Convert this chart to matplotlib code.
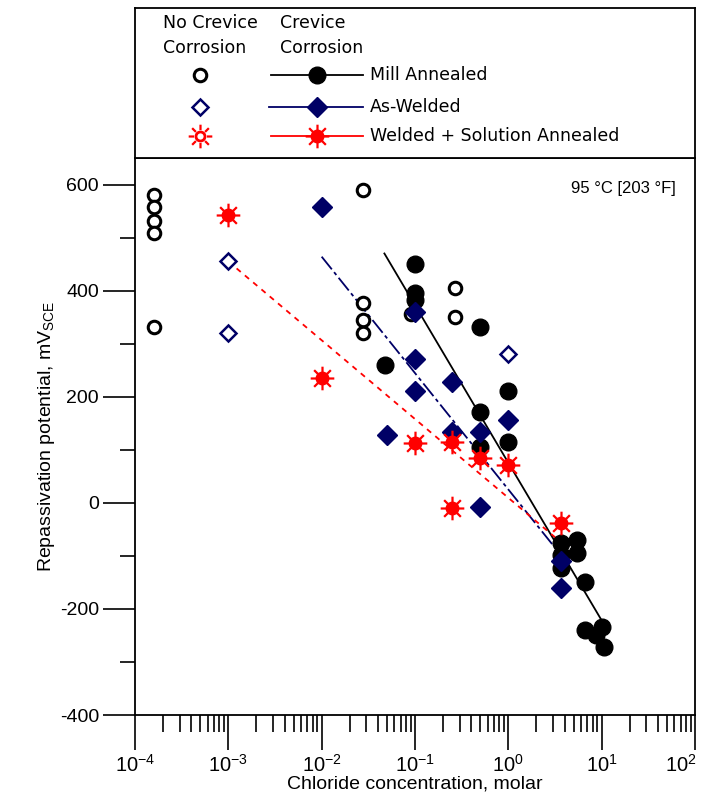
import numpy as np
import matplotlib
matplotlib.use("Agg")
import matplotlib.pyplot as plt
from matplotlib.path import Path
from matplotlib.transforms import ScaledTranslation
from matplotlib.ticker import LogLocator, FixedLocator, NullFormatter

plt.rcParams['font.family'] = ['Liberation Sans', 'DejaVu Sans']
plt.rcParams['axes.unicode_minus'] = False
plt.rcParams['mathtext.fontset'] = 'custom'
plt.rcParams['mathtext.rm'] = 'Liberation Sans'
plt.rcParams['mathtext.it'] = 'Liberation Sans:italic'
plt.rcParams['mathtext.bf'] = 'Liberation Sans:bold'

# Mill Annealed
ma_open_x = [1.6e-4, 1.6e-4, 1.6e-4, 1.6e-4, 1.6e-4, 0.028, 0.028, 0.028, 0.028, 0.09, 0.27, 0.27, 4.6]
ma_open_y = [581, 558, 532, 509, 332, 589, 377, 345, 321, 355, 404, 351, -79]
ma_crev_x = [0.048, 0.1, 0.1, 0.1, 0.5, 0.5, 0.5, 1.0, 1.0, 3.7, 3.7, 3.7, 5.4, 5.4, 6.6, 6.6, 8.8, 10.0, 10.7]
ma_crev_y = [260, 450, 395, 383, 332, 172, 105, 210, 115, -75, -98, -123, -70, -94, -150, -240, -249, -234, -272]
ma_fit_x = [0.047, 10.5]
ma_fit_y = [470, -228]

# As-Welded
aw_open_x = [0.001, 0.001, 1.0]
aw_open_y = [455, 320, 280]
aw_crev_x = [0.01, 0.05, 0.1, 0.1, 0.1, 0.25, 0.25, 0.5, 0.5, 1.0, 3.7, 3.7]
aw_crev_y = [558, 128, 360, 272, 211, 228, 134, 134, -8, 157, -110, -160]
aw_fit_x = [0.01, 4.0]
aw_fit_y = [464, -107]

# Welded + Solution Annealed
wsa_crev_x = [0.001, 0.01, 0.1, 0.25, 0.25, 0.5, 1.0, 3.7]
wsa_crev_y = [543, 236, 113, 115, -10, 85, 72, -38]
wsa_fit_x = [0.001, 3.7]
wsa_fit_y = [455, -75]

x_ticks = [1e-4, 1e-3, 1e-2, 1e-1, 1e0, 1e1, 1e2]
x_ticklabels = ['$10^{-4}$', '$10^{-3}$', '$10^{-2}$', '$10^{-1}$', '$10^{0}$', '$10^{1}$', '$10^{2}$']
y_ticks = [-400, -200, 0, 200, 400, 600]

NAVY = '#000066'
RED = '#ff0000'

# spikes around the circle for the "sunburst" marker
verts, codes = [], []
for a in np.linspace(0, 2 * np.pi, 8, endpoint=False):
    verts += [(0.55 * np.cos(a), 0.55 * np.sin(a)), (np.cos(a), np.sin(a))]
    codes += [Path.MOVETO, Path.LINETO]
spikes = Path(verts, codes)


def sunburst(ax, x, y, filled=True, **kw):
    ax.plot(x, y, ls='none', marker=spikes, ms=17, mew=1.6, mec=RED, **kw)
    ax.plot(x, y, ls='none', marker='o', ms=8 if filled else 6.5,
            mfc=RED if filled else 'white', mec=RED, mew=2, **kw)


fig = plt.figure(figsize=(7.09, 8.09), dpi=100)
ax = fig.add_axes([135 / 709, 1 - 715 / 809, 560 / 709, 557 / 809])

ax.plot(ma_fit_x, ma_fit_y, color='black', lw=1.3, zorder=2)
ax.plot(aw_fit_x, aw_fit_y, color=NAVY, lw=1.3, dashes=(9, 2, 2, 2), zorder=2)
ax.plot(wsa_fit_x, wsa_fit_y, color=RED, lw=1.3, dashes=(3, 3), zorder=2)

ax.plot(ma_open_x, ma_open_y, ls='none', marker='o', ms=9, mfc='white', mec='black', mew=2.2, zorder=3)
ax.plot(ma_crev_x, ma_crev_y, ls='none', marker='o', ms=12, color='black', zorder=3)
ax.plot(aw_open_x, aw_open_y, ls='none', marker='D', ms=8, mfc='white', mec=NAVY, mew=1.8, zorder=4)
ax.plot(aw_crev_x, aw_crev_y, ls='none', marker='D', ms=10, color=NAVY, zorder=4)
sunburst(ax, wsa_crev_x, wsa_crev_y, zorder=5)

ax.set_xscale('log')
ax.set_xlim(1e-4, 1e2)
ax.set_ylim(-400, 650)
ax.set_xticks(x_ticks, labels=x_ticklabels)
ax.xaxis.set_minor_locator(LogLocator(base=10, subs=np.arange(2, 10), numticks=20))
ax.xaxis.set_minor_formatter(NullFormatter())
ax.set_yticks(y_ticks)
ax.yaxis.set_minor_locator(FixedLocator([-300, -100, 100, 300, 500]))

ax.tick_params(axis='x', which='major', length=25, width=1.2, direction='out', labelsize=14.5, pad=3)
ax.tick_params(axis='x', which='minor', length=12.5, width=1.2, direction='out')
ax.tick_params(axis='y', which='major', length=23, width=1.2, direction='out', labelsize=14, pad=3)
ax.tick_params(axis='y', which='minor', length=11, width=1.2, direction='out')
for s in ax.spines.values():
    s.set_linewidth(1.3)

# keep the last label inside the picture
last = ax.get_xticklabels()[-1]
last.set_transform(last.get_transform() + ScaledTranslation(-10 / 72, 0, fig.dpi_scale_trans))

ax.set_xlabel('Chloride concentration, molar', fontsize=14, labelpad=0)
ax.set_ylabel(r'Repassivation potential, mV$_{\mathrm{SCE}}$', fontsize=14, labelpad=2)
ax.text(0.965, 0.945, '95 \u00b0C [203 \u00b0F]', transform=ax.transAxes,
        ha='right', va='center', fontsize=12)

# legend box above the plot, coordinates in pixels of the box
lg = fig.add_axes([135 / 709, 1 - 158 / 809, 560 / 709, 150 / 809])
lg.set_xlim(0, 560)
lg.set_ylim(150, 0)
lg.set_xticks([])
lg.set_yticks([])
for s in lg.spines.values():
    s.set_linewidth(1.3)

fs = 12.5
lg.text(28, 15, 'No Crevice', fontsize=fs, va='center', family='DejaVu Sans')
lg.text(28, 40, 'Corrosion', fontsize=fs, va='center', family='DejaVu Sans')
lg.text(145, 15, 'Crevice', fontsize=fs, va='center', family='DejaVu Sans')
lg.text(145, 40, 'Corrosion', fontsize=fs, va='center', family='DejaVu Sans')

rows = [67, 99, 128]
names = ['Mill Annealed', 'As-Welded', 'Welded + Solution Annealed']
lg.plot([65], [rows[0]], marker='o', ms=9, mfc='white', mec='black', mew=2.2)
lg.plot([136, 228], [rows[0]] * 2, color='black', lw=1.3)
lg.plot([182], [rows[0]], marker='o', ms=12, color='black')
lg.plot([65], [rows[1]], marker='D', ms=8, mfc='white', mec=NAVY, mew=1.8)
lg.plot([134, 228], [rows[1]] * 2, color=NAVY, lw=1.3)
lg.plot([182], [rows[1]], marker='D', ms=10, color=NAVY)
lg.plot([136, 228], [rows[2]] * 2, color=RED, lw=1.3)
sunburst(lg, [65], [rows[2]], filled=False)
sunburst(lg, [182], [rows[2]])
for r, n in zip(rows, names):
    lg.text(235, r, n, fontsize=fs, va='center', family='DejaVu Sans')

fig.savefig('out.png', dpi=100)
